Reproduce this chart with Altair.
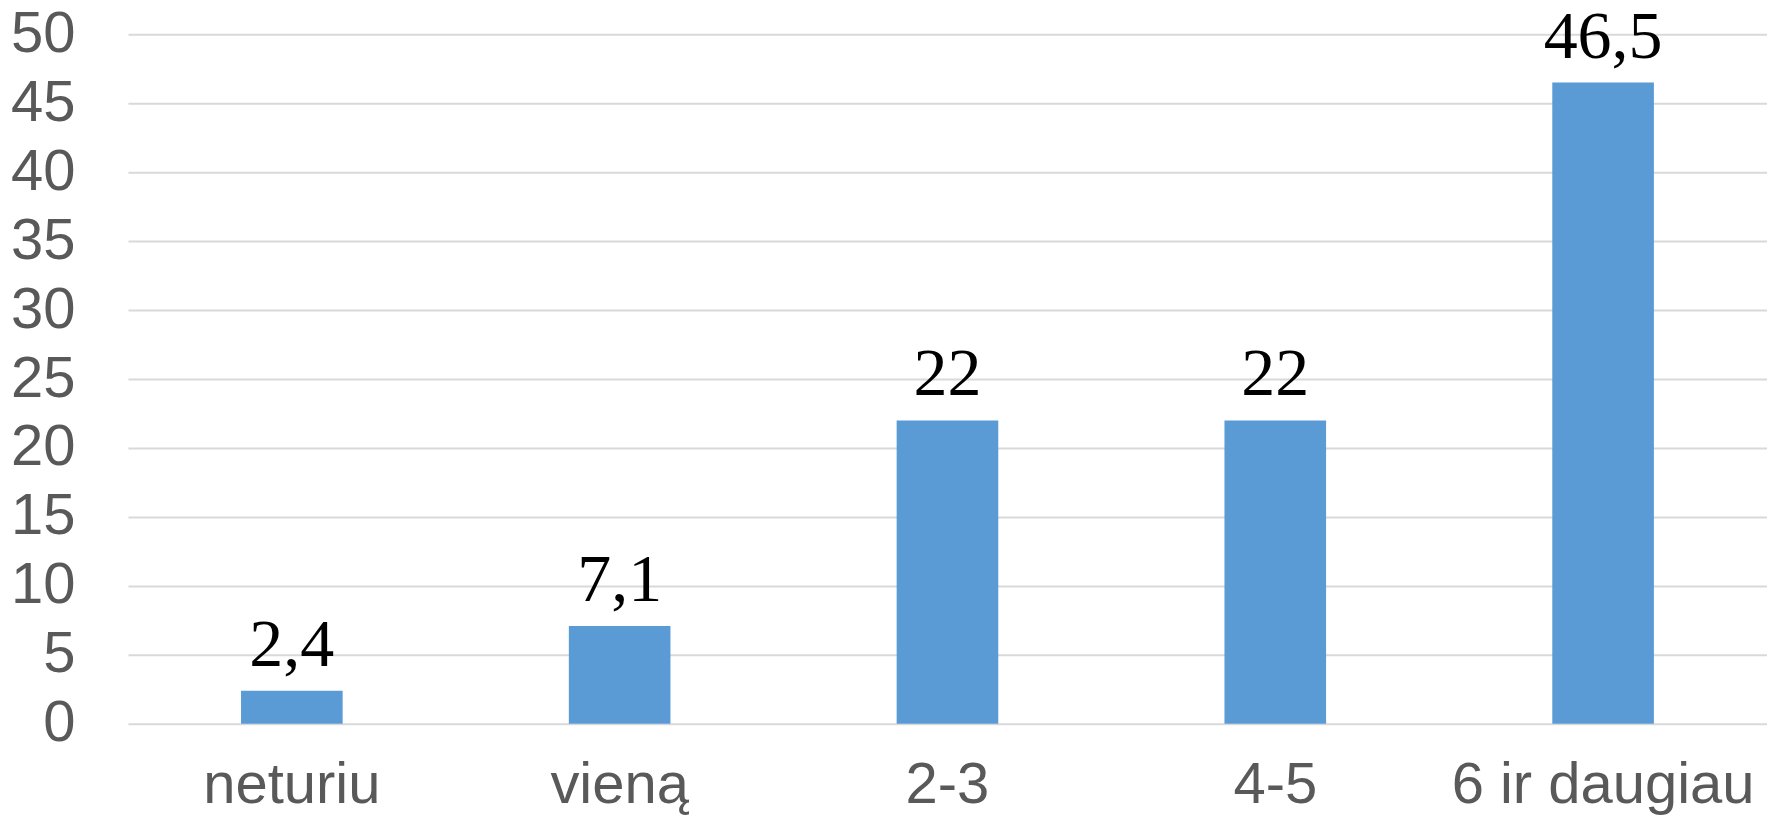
import altair as alt
import pandas as pd

categories = ["neturiu", "vieną", "2-3", "4-5", "6 ir daugiau"]
values = [2.4, 7.1, 22, 22, 46.5]
y_ticks = [0, 5, 10, 15, 20, 25, 30, 35, 40, 45, 50]

df = pd.DataFrame({"cat": categories, "val": values})

x = alt.X("cat:N", sort=categories, title=None,
          scale=alt.Scale(paddingInner=0.69, paddingOuter=0.345),
          axis=alt.Axis(labelAngle=0, labelFont="Liberation Sans", labelFontSize=58,
                        labelColor="#595959", labelPadding=33, labelLimit=0,
                        ticks=False, domain=False, grid=False))
y = alt.Y("val:Q", title=None,
          scale=alt.Scale(domain=[0, 50], nice=False),
          axis=alt.Axis(values=y_ticks, labelFont="Liberation Sans", labelFontSize=58,
                        labelColor="#595959", labelPadding=53, ticks=False, domain=False,
                        gridColor="#D9D9D9", gridWidth=2, labelBaseline="middle"))

bars = alt.Chart(df).mark_bar(color="#5B9BD5").encode(x=x, y=y)

labels = alt.Chart(df).transform_calculate(
    lab="replace(toString(datum.val), '.', ',')"
).mark_text(font="Liberation Serif", fontSize=68, color="black",
            baseline="alphabetic", dy=-25).encode(
    x=alt.X("cat:N", sort=categories), y="val:Q", text="lab:N")

chart = (bars + labels).properties(
    width=1640, height=690,
    padding={"left": 120, "top": 26, "right": 0, "bottom": 96},
    autosize=alt.AutoSizeParams(type="none"),
).configure_view(stroke=None)

chart.save("out.html", embed_options={"renderer": "svg", "actions": False})
